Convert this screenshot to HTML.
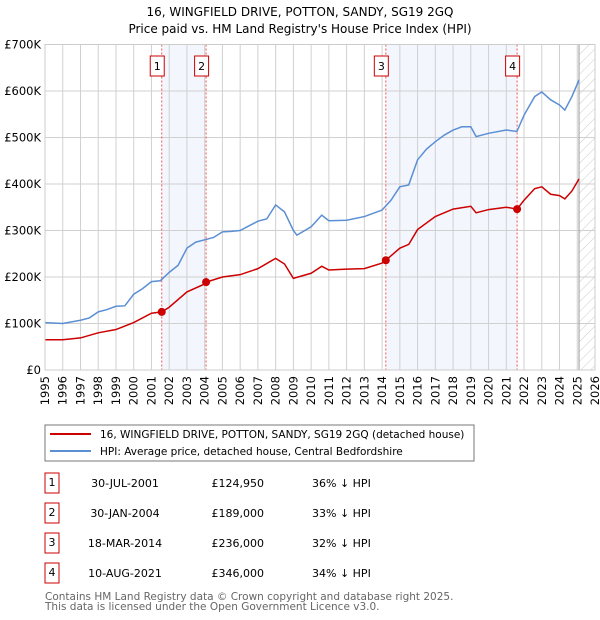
<!DOCTYPE html>
<html><head><meta charset="utf-8"><style>
body{margin:0;background:#fff;font-family:"DejaVu Sans","Liberation Sans",sans-serif;}
svg{display:block}
</style></head><body>
<svg id="c" width="600" height="620" xmlns="http://www.w3.org/2000/svg" font-family="DejaVu Sans, Liberation Sans, sans-serif">
<defs><pattern id="hatch" width="7" height="7" patternUnits="userSpaceOnUse" patternTransform="rotate(45)"><line x1="0" y1="0" x2="0" y2="7" stroke="#ccc" stroke-width="1"/></pattern></defs>
<text x="300" y="16" text-anchor="middle" font-size="12">16, WINGFIELD DRIVE, POTTON, SANDY, SG19 2GQ</text>
<text x="300" y="33" text-anchor="middle" font-size="12">Price paid vs. HM Land Registry's House Price Index (HPI)</text>
<g id="plot"></g>
<rect x="45" y="425" width="429" height="36" fill="none" stroke="#777"/>
<line x1="50" y1="434" x2="91" y2="434" stroke="#cc0000" stroke-width="2"/>
<text x="100" y="438" font-size="10.5">16, WINGFIELD DRIVE, POTTON, SANDY, SG19 2GQ (detached house)</text>
<line x1="50" y1="451" x2="91" y2="451" stroke="#5b8fd4" stroke-width="2"/>
<text x="100" y="455" font-size="10.5">HPI: Average price, detached house, Central Bedfordshire</text>
<g id="table" font-size="11"></g>
<text x="45" y="600" font-size="10.5" fill="#666">Contains HM Land Registry data © Crown copyright and database right 2025.</text>
<text x="45" y="610" font-size="10.5" fill="#666">This data is licensed under the Open Government Licence v3.0.</text>
</svg>
<script>
const hpiYears=[1995,1996,1997,1997.5,1998,1998.5,1999,1999.5,2000,2000.5,2001,2001.5,2002,2002.5,2003,2003.5,2004,2004.5,2005,2005.5,2006,2006.5,2007,2007.5,2008,2008.5,2009,2009.2,2010,2010.6,2011,2012,2013,2014,2014.5,2015,2015.5,2016,2016.5,2017,2017.5,2018,2018.5,2019,2019.3,2020,2021,2021.6,2022,2022.6,2023,2023.5,2024,2024.3,2024.7,2025.1];
const hpiValues=[102,100,107,112,125,130,137,138,163,175,190,192,210,225,262,275,280,285,297,298,300,310,320,325,355,340,300,290,308,333,321,322,330,344,365,394,398,452,475,491,505,516,523,523,502,509,516,513,548,588,598,581,570,559,588,624];
const redYears=[1995,1996,1997,1998,1999,2000,2001,2001.58,2002,2003,2004,2004.08,2005,2006,2007,2008,2008.5,2009,2010,2010.6,2011,2012,2013,2014,2014.21,2015,2015.5,2016,2017,2018,2019,2019.3,2020,2021,2021.61,2022,2022.6,2023,2023.5,2024,2024.3,2024.7,2025.1];
const redValues=[65,65,69,80,87,102,122,125,135,168,185,189,200,205,218,240,228,197,208,223,215,217,218,230,236,262,270,302,330,346,352,338,345,350,346,365,390,394,378,375,368,385,411];
const saleYears=[2001.58,2004.08,2014.21,2021.61];
const saleValues=[124.95,189,236,346];
const saleDates=["30-JUL-2001","30-JAN-2004","18-MAR-2014","10-AUG-2021"];
const salePrices=["£124,950","£189,000","£236,000","£346,000"];
const saleDiffs=["36% ↓ HPI","33% ↓ HPI","32% ↓ HPI","34% ↓ HPI"];
const yTicks=[0,100,200,300,400,500,600,700];
const yTickLabels=["£0","£100K","£200K","£300K","£400K","£500K","£600K","£700K"];
const NS="http://www.w3.org/2000/svg";
const L=45,R=595,T=44.5,B=370,X0=1995,X1=2026,YMAX=700;
const x=v=>L+(v-X0)/(X1-X0)*(R-L);
const y=v=>B-v/YMAX*(B-T);
const g=document.getElementById('plot');
function mk(tag,attrs,parent){const e=document.createElementNS(NS,tag);for(const k in attrs)e.setAttribute(k,attrs[k]);(parent||g).appendChild(e);return e;}
for(let i=0;i<saleYears.length;i+=2){
 const r=mk('rect',{x:x(saleYears[i]),y:T,width:x(saleYears[i+1])-x(saleYears[i]),height:B-T,fill:'#f3f6fd'});
 
 
}
const h=mk('rect',{x:x(2025.1),y:T,width:R-x(2025.1),height:B-T,fill:'url(#hatch)'});


for(let yr=X0;yr<=X1;yr++){
 const l=mk('line',{x1:x(yr),x2:x(yr),y1:T,y2:B,stroke:'#d0d0d0','stroke-width':1});
 
 
 const t=mk('text',{x:0,y:0,'font-size':11.5,'text-anchor':'end',transform:`translate(${x(yr)+4},${B+6}) rotate(-90)`});
 t.textContent=yr;
 
 
}
yTicks.forEach((v,i)=>{
 const l=mk('line',{x1:L,x2:R,y1:y(v),y2:y(v),stroke:'#d0d0d0','stroke-width':1});
 
 
 const t=mk('text',{x:L-4,y:y(v)+4,'font-size':11.5,'text-anchor':'end'});
 t.textContent=yTickLabels[i];
 
 
});
const vl=mk('line',{x1:x(2025.1),x2:x(2025.1),y1:T,y2:B,stroke:'#999','stroke-width':1});


saleYears.forEach((s,i)=>{
 const l=mk('line',{x1:x(s),x2:x(s),y1:T,y2:B,stroke:'#ee5555','stroke-width':1,'stroke-dasharray':'2,2'});
 
 
 const b=mk('rect',{x:x(s)-11.5,y:56,width:14,height:20,fill:'#fff',stroke:'#cc0000'});
 
 
 const t=mk('text',{x:x(s)-4.5,y:70,'font-size':11,'text-anchor':'middle'});
 t.textContent=i+1;
 
 
});
const hp=mk('polyline',{points:hpiYears.map((v,i)=>x(v)+','+y(hpiValues[i])).join(' '),fill:'none',stroke:'#5b8fd4','stroke-width':1.5});


const rp=mk('polyline',{points:redYears.map((v,i)=>x(v)+','+y(redValues[i])).join(' '),fill:'none',stroke:'#cc0000','stroke-width':1.5});


saleYears.forEach((s,i)=>{
 const c=mk('circle',{cx:x(s),cy:y(saleValues[i]),r:4,fill:'#cc0000'});
 
 
});
const fr=mk('rect',{x:L,y:T,width:R-L,height:B-T,fill:'none',stroke:'#ccc'});


const tg=document.getElementById('table');
saleDates.forEach((d,i)=>{
 const cy=483+i*30;
 const b=mk('rect',{x:45,y:cy-10,width:14,height:20,fill:'#fff',stroke:'#cc0000'},tg);
 
 
 const n=mk('text',{x:52,y:cy+3,'text-anchor':'middle'},tg);n.textContent=i+1;
 
 
 const a=mk('text',{x:125,y:cy+4,'text-anchor':'middle'},tg);a.textContent=d;
 
 
 const p=mk('text',{x:264,y:cy+4,'text-anchor':'end'},tg);p.textContent=salePrices[i];
 
 
 const q=mk('text',{x:312,y:cy+4},tg);q.textContent=saleDiffs[i];
 
 
});
</script>
</body></html>
